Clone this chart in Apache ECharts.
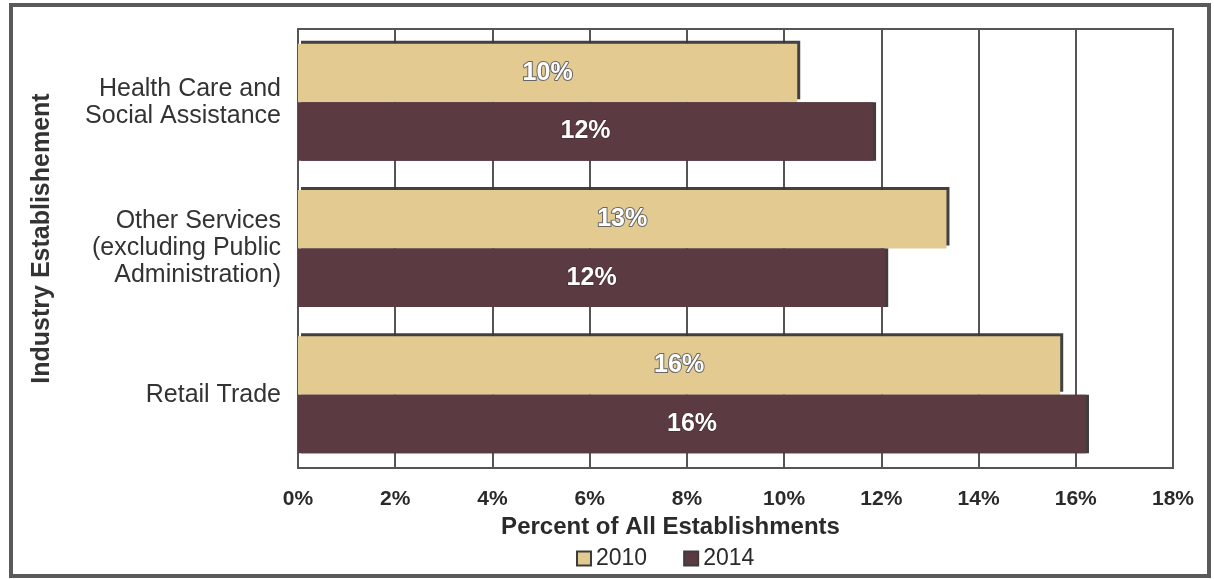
<!DOCTYPE html>
<html>
<head>
<meta charset="utf-8">
<title>Industry Establishments</title>
<script src="https://cdn.jsdelivr.net/npm/echarts@6/dist/echarts.min.js"></script>
<style>
  html, body { margin: 0; padding: 0; background: #fff; }
  #chart { width: 1214px; height: 579px; }
</style>
</head>
<body>
<div id="chart"></div>
<script>
// Industry categories, listed top to bottom
const categories = [
  'Health Care and\nSocial Assistance',
  'Other Services\n(excluding Public\nAdministration)',
  'Retail Trade'
];
// Share of all establishments (%)
const values2010 = [10.27, 13.34, 15.68];
const values2014 = [11.83, 12.08, 16.21];
const seriesNames = ['2010', '2014'];
const tickMin = 0, tickMax = 18, tickStep = 2;

const FONT = '"Liberation Sans", Arial, Helvetica, sans-serif';
const TAN = '#E2CA91';
const BROWN = '#5C3A41';

const chart = echarts.init(document.getElementById('chart'), null, { renderer: 'canvas' });

function pctLabel(p) { return Math.round(p.value) + '%'; }

chart.setOption({
  backgroundColor: '#ffffff',
  animation: false,
  grid: {
    left: 298, right: 41, top: 29, bottom: 111,
    show: true, borderColor: '#555', borderWidth: 2, backgroundColor: 'transparent'
  },
  legend: {
    data: [
      { name: seriesNames[0], itemStyle: { color: TAN, borderColor: '#3c3c3c', borderWidth: 2 } },
      { name: seriesNames[1], itemStyle: { color: BROWN, borderColor: '#3c3c3c', borderWidth: 2 } }
    ],
    left: 571, top: 542,
    itemWidth: 14, itemHeight: 14, itemGap: 36,
    icon: 'rect',
    textStyle: { fontFamily: FONT, fontSize: 23, color: '#2a2a2a' }
  },
  xAxis: {
    type: 'value',
    min: tickMin, max: tickMax, interval: tickStep,
    name: 'Percent of All Establishments',
    nameLocation: 'middle',
    nameGap: 38,
    nameTextStyle: {
      fontFamily: FONT, fontSize: 24, fontWeight: 'bold', color: '#2a2a2a',
      padding: [0, 130, 0, 0]
    },
    axisLine: { show: false },
    axisTick: { show: false },
    axisLabel: {
      formatter: '{value}%', margin: 21,
      fontFamily: FONT, fontSize: 21, fontWeight: 'bold', color: '#2a2a2a'
    },
    splitLine: { show: true, lineStyle: { color: '#555', width: 2 } }
  },
  yAxis: {
    type: 'category',
    inverse: true,
    data: categories,
    name: 'Industry Establishement',
    nameLocation: 'middle',
    nameRotate: 90,
    nameGap: 243,
    nameTextStyle: {
      fontFamily: FONT, fontSize: 25, fontWeight: 'bold', color: '#333',
      padding: [0, 0, 0, 20]
    },
    axisLine: { show: false },
    axisTick: { show: false },
    axisLabel: {
      margin: 17, align: 'right',
      fontFamily: FONT, fontSize: 25, lineHeight: 27, color: '#333'
    },
    splitLine: { show: false }
  },
  series: [
    {
      name: seriesNames[0],
      type: 'bar',
      data: values2010,
      barCategoryGap: '20%',
      barGap: '0%',
      itemStyle: {
        color: TAN,
        shadowColor: 'rgba(55,55,55,0.95)', shadowBlur: 0,
        shadowOffsetX: 3, shadowOffsetY: -3
      },
      label: {
        show: true, position: 'inside', formatter: pctLabel,
        fontFamily: FONT, fontSize: 25, fontWeight: 'bold', color: '#ffffff',
        textBorderColor: '#666', textBorderWidth: 2
      }
    },
    {
      name: seriesNames[1],
      type: 'bar',
      data: values2014,
      barCategoryGap: '20%',
      barGap: '0%',
      itemStyle: {
        color: BROWN,
        shadowColor: 'rgba(45,40,40,0.9)', shadowBlur: 0,
        shadowOffsetX: 3, shadowOffsetY: 0
      },
      label: {
        show: true, position: 'inside', formatter: pctLabel,
        fontFamily: FONT, fontSize: 25, fontWeight: 'bold', color: '#ffffff',
        textBorderColor: '#3a2a2d', textBorderWidth: 1
      }
    }
  ],
  graphic: [
    {
      type: 'rect', silent: true, z: 100,
      shape: { x: 11, y: 5, width: 1198, height: 571 },
      style: { fill: 'none', stroke: '#5a5a5a', lineWidth: 4 }
    }
  ]
});
</script>
</body>
</html>
